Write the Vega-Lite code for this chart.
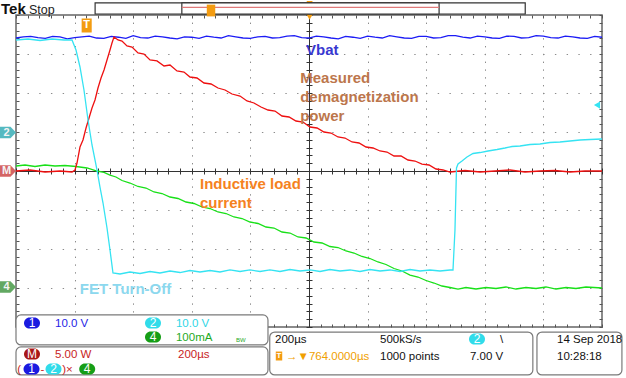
{
"$schema": "https://vega.github.io/schema/vega-lite/v6.json",
"width": 586, "height": 312,
"autosize": {"type": "none"},
"padding": {"left": 16, "top": 15, "right": 24, "bottom": 51},
"background": "white",
"config": {"view": {"stroke": "#666666", "strokeWidth": 1.5}, "font": "Liberation Sans"},
"datasets": {
"tr": [
{"s":"ch1","x":0,"y":3.41},{"s":"ch1","x":0.125,"y":3.44},{"s":"ch1","x":0.25,"y":3.45},{"s":"ch1","x":0.375,"y":3.42},{"s":"ch1","x":0.5,"y":3.40},{"s":"ch1","x":0.625,"y":3.45},{"s":"ch1","x":0.75,"y":3.44},{"s":"ch1","x":0.875,"y":3.39},{"s":"ch1","x":1.0,"y":3.42},{"s":"ch1","x":1.125,"y":3.44},{"s":"ch1","x":1.25,"y":3.46},{"s":"ch1","x":1.375,"y":3.41},{"s":"ch1","x":1.5,"y":3.40},{"s":"ch1","x":1.625,"y":3.45},{"s":"ch1","x":1.75,"y":3.43},{"s":"ch1","x":1.875,"y":3.40},{"s":"ch1","x":2.0,"y":3.47},{"s":"ch1","x":2.125,"y":3.42},{"s":"ch1","x":2.25,"y":3.41},{"s":"ch1","x":2.375,"y":3.46},{"s":"ch1","x":2.5,"y":3.44},{"s":"ch1","x":2.625,"y":3.41},{"s":"ch1","x":2.75,"y":3.39},{"s":"ch1","x":2.875,"y":3.44},{"s":"ch1","x":3.0,"y":3.43},{"s":"ch1","x":3.125,"y":3.40},{"s":"ch1","x":3.25,"y":3.46},{"s":"ch1","x":3.375,"y":3.43},{"s":"ch1","x":3.5,"y":3.41},{"s":"ch1","x":3.625,"y":3.47},{"s":"ch1","x":3.75,"y":3.44},{"s":"ch1","x":3.875,"y":3.41},{"s":"ch1","x":4.0,"y":3.40},{"s":"ch1","x":4.125,"y":3.44},{"s":"ch1","x":4.25,"y":3.45},{"s":"ch1","x":4.375,"y":3.41},{"s":"ch1","x":4.5,"y":3.42},{"s":"ch1","x":4.625,"y":3.46},{"s":"ch1","x":4.75,"y":3.47},{"s":"ch1","x":4.875,"y":3.42},{"s":"ch1","x":5.0,"y":3.41},{"s":"ch1","x":5.125,"y":3.46},{"s":"ch1","x":5.25,"y":3.44},{"s":"ch1","x":5.375,"y":3.41},{"s":"ch1","x":5.5,"y":3.39},{"s":"ch1","x":5.625,"y":3.45},{"s":"ch1","x":5.75,"y":3.43},{"s":"ch1","x":5.875,"y":3.40},{"s":"ch1","x":6.0,"y":3.46},{"s":"ch1","x":6.125,"y":3.43},{"s":"ch1","x":6.25,"y":3.41},{"s":"ch1","x":6.375,"y":3.47},{"s":"ch1","x":6.5,"y":3.44},{"s":"ch1","x":6.625,"y":3.41},{"s":"ch1","x":6.75,"y":3.40},{"s":"ch1","x":6.875,"y":3.45},{"s":"ch1","x":7.0,"y":3.45},{"s":"ch1","x":7.125,"y":3.41},{"s":"ch1","x":7.25,"y":3.42},{"s":"ch1","x":7.375,"y":3.47},{"s":"ch1","x":7.5,"y":3.47},{"s":"ch1","x":7.625,"y":3.43},{"s":"ch1","x":7.75,"y":3.41},{"s":"ch1","x":7.875,"y":3.46},{"s":"ch1","x":8.0,"y":3.44},{"s":"ch1","x":8.125,"y":3.41},{"s":"ch1","x":8.25,"y":3.40},{"s":"ch1","x":8.375,"y":3.46},{"s":"ch1","x":8.5,"y":3.45},{"s":"ch1","x":8.625,"y":3.41},{"s":"ch1","x":8.75,"y":3.42},{"s":"ch1","x":8.875,"y":3.47},{"s":"ch1","x":9.0,"y":3.46},{"s":"ch1","x":9.125,"y":3.42},{"s":"ch1","x":9.25,"y":3.41},{"s":"ch1","x":9.375,"y":3.46},{"s":"ch1","x":9.5,"y":3.44},{"s":"ch1","x":9.625,"y":3.41},{"s":"ch1","x":9.75,"y":3.40},{"s":"ch1","x":9.875,"y":3.45},{"s":"ch1","x":10.0,"y":3.43},
{"s":"ch4","x":0,"y":0.128},{"s":"ch4","x":0.154,"y":0.154},{"s":"ch4","x":0.324,"y":0.115},{"s":"ch4","x":0.495,"y":0.154},{"s":"ch4","x":0.666,"y":0.128},{"s":"ch4","x":0.836,"y":0.141},{"s":"ch4","x":1.024,"y":0.115},{"s":"ch4","x":1.212,"y":0.077},{"s":"ch4","x":1.382,"y":0},{"s":"ch4","x":1.502,"y":-0.038},{"s":"ch4","x":1.604,"y":-0.103},{"s":"ch4","x":1.706,"y":-0.154},{"s":"ch4","x":1.809,"y":-0.244},{"s":"ch4","x":1.945,"y":-0.308},{"s":"ch4","x":2.082,"y":-0.397},{"s":"ch4","x":2.218,"y":-0.436},{"s":"ch4","x":2.355,"y":-0.538},{"s":"ch4","x":2.491,"y":-0.577},{"s":"ch4","x":2.628,"y":-0.667},{"s":"ch4","x":2.765,"y":-0.705},{"s":"ch4","x":2.901,"y":-0.795},{"s":"ch4","x":3.038,"y":-0.833},{"s":"ch4","x":3.174,"y":-0.923},{"s":"ch4","x":3.311,"y":-0.962},{"s":"ch4","x":3.447,"y":-1.051},{"s":"ch4","x":3.584,"y":-1.090},{"s":"ch4","x":3.720,"y":-1.179},{"s":"ch4","x":3.857,"y":-1.218},{"s":"ch4","x":3.993,"y":-1.308},{"s":"ch4","x":4.130,"y":-1.346},{"s":"ch4","x":4.266,"y":-1.436},{"s":"ch4","x":4.403,"y":-1.462},{"s":"ch4","x":4.539,"y":-1.564},{"s":"ch4","x":4.676,"y":-1.590},{"s":"ch4","x":4.812,"y":-1.692},{"s":"ch4","x":4.949,"y":-1.718},{"s":"ch4","x":5.085,"y":-1.821},{"s":"ch4","x":5.222,"y":-1.846},{"s":"ch4","x":5.358,"y":-1.936},{"s":"ch4","x":5.495,"y":-1.962},{"s":"ch4","x":5.631,"y":-2.051},{"s":"ch4","x":5.768,"y":-2.103},{"s":"ch4","x":5.904,"y":-2.192},{"s":"ch4","x":6.041,"y":-2.244},{"s":"ch4","x":6.177,"y":-2.333},{"s":"ch4","x":6.314,"y":-2.397},{"s":"ch4","x":6.451,"y":-2.500},{"s":"ch4","x":6.587,"y":-2.564},{"s":"ch4","x":6.724,"y":-2.667},{"s":"ch4","x":6.860,"y":-2.718},{"s":"ch4","x":6.997,"y":-2.808},{"s":"ch4","x":7.133,"y":-2.872},{"s":"ch4","x":7.270,"y":-2.949},{"s":"ch4","x":7.406,"y":-2.987},{"s":"ch4","x":7.543,"y":-3.026},{"s":"ch4","x":7.679,"y":-2.987},{"s":"ch4","x":7.850,"y":-3.026},{"s":"ch4","x":8.020,"y":-2.987},{"s":"ch4","x":8.191,"y":-3.013},{"s":"ch4","x":8.362,"y":-2.974},{"s":"ch4","x":8.532,"y":-3.026},{"s":"ch4","x":8.703,"y":-2.987},{"s":"ch4","x":8.874,"y":-3.013},{"s":"ch4","x":9.044,"y":-2.974},{"s":"ch4","x":9.215,"y":-3.026},{"s":"ch4","x":9.386,"y":-2.987},{"s":"ch4","x":9.556,"y":-3.013},{"s":"ch4","x":9.727,"y":-2.974},{"s":"ch4","x":10.0,"y":-3.0},
{"s":"M","x":0,"y":0},{"s":"M","x":0.239,"y":0.026},{"s":"M","x":0.495,"y":-0.026},{"s":"M","x":0.751,"y":0},{"s":"M","x":0.956,"y":-0.026},{"s":"M","x":1.007,"y":0.026},{"s":"M","x":1.041,"y":0.205},{"s":"M","x":1.092,"y":0.615},{"s":"M","x":1.143,"y":0.795},{"s":"M","x":1.195,"y":1.103},{"s":"M","x":1.246,"y":1.359},{"s":"M","x":1.297,"y":1.615},{"s":"M","x":1.348,"y":1.821},{"s":"M","x":1.399,"y":2.128},{"s":"M","x":1.451,"y":2.385},{"s":"M","x":1.502,"y":2.590},{"s":"M","x":1.553,"y":2.846},{"s":"M","x":1.604,"y":3.103},{"s":"M","x":1.638,"y":3.282},{"s":"M","x":1.672,"y":3.436},{"s":"M","x":1.741,"y":3.359},{"s":"M","x":1.809,"y":3.333},{"s":"M","x":1.894,"y":3.205},{"s":"M","x":1.980,"y":3.179},{"s":"M","x":2.082,"y":3.026},{"s":"M","x":2.184,"y":3.0},{"s":"M","x":2.287,"y":2.846},{"s":"M","x":2.406,"y":2.821},{"s":"M","x":2.526,"y":2.692},{"s":"M","x":2.628,"y":2.718},{"s":"M","x":2.747,"y":2.564},{"s":"M","x":2.867,"y":2.538},{"s":"M","x":2.969,"y":2.410},{"s":"M","x":3.089,"y":2.385},{"s":"M","x":3.208,"y":2.256},{"s":"M","x":3.328,"y":2.231},{"s":"M","x":3.447,"y":2.128},{"s":"M","x":3.567,"y":2.077},{"s":"M","x":3.686,"y":1.974},{"s":"M","x":3.823,"y":1.923},{"s":"M","x":3.942,"y":1.795},{"s":"M","x":4.061,"y":1.744},{"s":"M","x":4.181,"y":1.641},{"s":"M","x":4.300,"y":1.564},{"s":"M","x":4.420,"y":1.538},{"s":"M","x":4.539,"y":1.410},{"s":"M","x":4.659,"y":1.385},{"s":"M","x":4.778,"y":1.282},{"s":"M","x":4.898,"y":1.256},{"s":"M","x":5.017,"y":1.128},{"s":"M","x":5.137,"y":1.103},{"s":"M","x":5.256,"y":1.0},{"s":"M","x":5.375,"y":0.974},{"s":"M","x":5.495,"y":0.872},{"s":"M","x":5.614,"y":0.846},{"s":"M","x":5.734,"y":0.744},{"s":"M","x":5.853,"y":0.718},{"s":"M","x":5.973,"y":0.615},{"s":"M","x":6.092,"y":0.590},{"s":"M","x":6.212,"y":0.513},{"s":"M","x":6.331,"y":0.487},{"s":"M","x":6.451,"y":0.385},{"s":"M","x":6.570,"y":0.385},{"s":"M","x":6.689,"y":0.282},{"s":"M","x":6.809,"y":0.256},{"s":"M","x":6.928,"y":0.179},{"s":"M","x":7.048,"y":0.154},{"s":"M","x":7.167,"y":0.051},{"s":"M","x":7.287,"y":0.026},{"s":"M","x":7.406,"y":-0.026},{"s":"M","x":7.662,"y":0.013},{"s":"M","x":7.918,"y":-0.026},{"s":"M","x":8.174,"y":0},{"s":"M","x":8.430,"y":0.026},{"s":"M","x":8.686,"y":-0.026},{"s":"M","x":8.942,"y":0},{"s":"M","x":9.198,"y":0.013},{"s":"M","x":9.454,"y":-0.026},{"s":"M","x":9.710,"y":0},{"s":"M","x":10.0,"y":0},
{"s":"ch2","x":0,"y":3.359},{"s":"ch2","x":0.205,"y":3.385},{"s":"ch2","x":0.410,"y":3.346},{"s":"ch2","x":0.614,"y":3.385},{"s":"ch2","x":0.819,"y":3.359},{"s":"ch2","x":0.956,"y":3.359},{"s":"ch2","x":1.024,"y":3.103},{"s":"ch2","x":1.092,"y":2.667},{"s":"ch2","x":1.160,"y":2.077},{"s":"ch2","x":1.229,"y":1.308},{"s":"ch2","x":1.297,"y":0.667},{"s":"ch2","x":1.382,"y":0.026},{"s":"ch2","x":1.433,"y":-0.410},{"s":"ch2","x":1.485,"y":-0.821},{"s":"ch2","x":1.553,"y":-1.462},{"s":"ch2","x":1.604,"y":-2.026},{"s":"ch2","x":1.655,"y":-2.615},{"s":"ch2","x":1.775,"y":-2.641},{"s":"ch2","x":1.945,"y":-2.590},{"s":"ch2","x":2.116,"y":-2.628},{"s":"ch2","x":2.287,"y":-2.577},{"s":"ch2","x":2.457,"y":-2.615},{"s":"ch2","x":2.628,"y":-2.564},{"s":"ch2","x":2.799,"y":-2.603},{"s":"ch2","x":2.969,"y":-2.551},{"s":"ch2","x":3.140,"y":-2.590},{"s":"ch2","x":3.311,"y":-2.551},{"s":"ch2","x":3.481,"y":-2.590},{"s":"ch2","x":3.652,"y":-2.538},{"s":"ch2","x":3.823,"y":-2.577},{"s":"ch2","x":3.993,"y":-2.538},{"s":"ch2","x":4.164,"y":-2.577},{"s":"ch2","x":4.334,"y":-2.538},{"s":"ch2","x":4.505,"y":-2.577},{"s":"ch2","x":4.676,"y":-2.526},{"s":"ch2","x":4.846,"y":-2.564},{"s":"ch2","x":5.017,"y":-2.538},{"s":"ch2","x":5.188,"y":-2.577},{"s":"ch2","x":5.358,"y":-2.526},{"s":"ch2","x":5.529,"y":-2.564},{"s":"ch2","x":5.700,"y":-2.538},{"s":"ch2","x":5.870,"y":-2.577},{"s":"ch2","x":6.041,"y":-2.526},{"s":"ch2","x":6.212,"y":-2.564},{"s":"ch2","x":6.382,"y":-2.538},{"s":"ch2","x":6.553,"y":-2.577},{"s":"ch2","x":6.724,"y":-2.526},{"s":"ch2","x":6.894,"y":-2.564},{"s":"ch2","x":7.065,"y":-2.538},{"s":"ch2","x":7.235,"y":-2.564},{"s":"ch2","x":7.406,"y":-2.538},{"s":"ch2","x":7.457,"y":-2.538},{"s":"ch2","x":7.491,"y":-1.513},{"s":"ch2","x":7.517,"y":0.077},{"s":"ch2","x":7.543,"y":0.179},{"s":"ch2","x":7.611,"y":0.256},{"s":"ch2","x":7.696,"y":0.359},{"s":"ch2","x":7.799,"y":0.449},{"s":"ch2","x":7.918,"y":0.474},{"s":"ch2","x":8.055,"y":0.513},{"s":"ch2","x":8.208,"y":0.551},{"s":"ch2","x":8.345,"y":0.590},{"s":"ch2","x":8.464,"y":0.628},{"s":"ch2","x":8.601,"y":0.641},{"s":"ch2","x":8.771,"y":0.679},{"s":"ch2","x":8.942,"y":0.692},{"s":"ch2","x":9.113,"y":0.731},{"s":"ch2","x":9.283,"y":0.744},{"s":"ch2","x":9.454,"y":0.769},{"s":"ch2","x":9.625,"y":0.795},{"s":"ch2","x":9.795,"y":0.808},{"s":"ch2","x":10.0,"y":0.821}
],
"ann": [
{"x":4.95,"y":2.962,"t":"Vbat","k":"vbat"},
{"x":4.85,"y":2.244,"t":"Measured\ndemagnetization\npower","k":"power"},
{"x":3.14,"y":-0.474,"t":"Inductive load\ncurrent","k":"current"},
{"x":1.09,"y":-3.149,"t":"FET Turn-Off","k":"fet"}
],
"boxes": [
{"x":0,"x2":4.30,"y":-3.69,"y2":-4.46},
{"x":0,"x2":4.30,"y":-4.51,"y2":-5.23},
{"x":4.33,"x2":8.82,"y":-4.13,"y2":-5.23},
{"x":8.89,"x2":10.34,"y":-4.13,"y2":-5.23}
],
"hdr": [
{"x":1.35,"x2":8.69,"y":4.31,"y2":4.026},
{"x":2.83,"x2":7.22,"y":4.31,"y2":4.026}
],
"hline": [{"x":2.83,"x2":7.22,"y":4.197}],
"pills": [
{"x":0.273,"y":-3.897,"t":"1","k":"p1"},
{"x":2.338,"y":-3.897,"t":"2","k":"p2"},
{"x":2.338,"y":-4.256,"t":"4","k":"p4"},
{"x":0.273,"y":-4.692,"t":"M","k":"pM"},
{"x":0.265,"y":-5.077,"t":"1","k":"p1"},
{"x":0.640,"y":-5.077,"t":"2","k":"p2"},
{"x":1.215,"y":-5.077,"t":"4","k":"p4"},
{"x":7.867,"y":-4.308,"t":"2","k":"p2"}
],
"mk": [
{"x":-0.145,"y":0.987,"t":"2","k":"m2"},
{"x":-0.145,"y":0,"t":"M","k":"mM"},
{"x":-0.145,"y":-2.974,"t":"4","k":"m4"}
],
"tm": [
{"x":1.206,"y":3.731,"w":"a"},
{"x":3.328,"y":4.115,"w":"b"},
{"x":4.488,"y":-4.744,"w":"c"}
],
"tri": [{"x":5.01,"y":3.95},{"x":5.01,"y":4.287}],
"trig": [{"x":9.915,"y":1.69}],
"read": [
{"x":0.666,"y":-4.0,"t":"10.0 V","k":"t1"},
{"x":2.730,"y":-4.0,"t":"10.0 V","k":"t2"},
{"x":2.730,"y":-4.359,"t":"100mA","k":"t4"},
{"x":0.666,"y":-4.795,"t":"5.00 W","k":"tM"},
{"x":2.765,"y":-4.795,"t":"200µs","k":"tM"},
{"x":0.020,"y":-5.179,"t":"(","k":"tM"},
{"x":0.420,"y":-5.179,"t":"-","k":"tM"},
{"x":0.790,"y":-5.179,"t":")×","k":"tM"},
{"x":4.420,"y":-4.41,"t":"200µs","k":"k"},
{"x":6.212,"y":-4.41,"t":"500kS/s","k":"k"},
{"x":8.259,"y":-4.41,"t":"\\","k":"k"},
{"x":4.608,"y":-4.846,"t":"→▼764.0000µs","k":"tT"},
{"x":6.212,"y":-4.846,"t":"1000 points","k":"k"},
{"x":7.747,"y":-4.846,"t":"7.00 V","k":"k"},
{"x":9.232,"y":-4.41,"t":"14 Sep 2018","k":"k"},
{"x":9.232,"y":-4.846,"t":"10:28:18","k":"k"}
],
"bw": [{"x":3.754,"y":-4.33,"t":"BW"}],
"tek": [{"x":-0.256,"y":4.038,"t":"Tek"}],
"stop": [{"x":0.188,"y":4.038,"t":"Stop"}]
},
"data": {"name": "tr"},
"layer": [
{
"mark": {"type": "line", "strokeWidth": 1.3},
"encoding": {
"x": {"field":"x","type":"quantitative","scale":{"domain":[0,10],"nice":false,"zero":false},
 "axis":{"orient":"bottom","values":[1,2,3,4,6,7,8,9],"grid":true,"gridColor":"#8c8c8c","gridDash":[1.4,6.4],"gridDashOffset":0.7,"gridWidth":1,"domain":false,"ticks":false,"labels":false,"title":null,"zindex":0}},
"y": {"field":"y","type":"quantitative","scale":{"domain":[-4,4],"nice":false,"zero":false},
 "axis":{"orient":"left","values":[-3,-2,-1,1,2,3],"grid":true,"gridColor":"#8c8c8c","gridDash":[1.4,10.32],"gridDashOffset":0.7,"gridWidth":1,"domain":false,"ticks":false,"labels":false,"title":null,"zindex":0}},
"color": {"field":"s","type":"nominal","legend":null,
 "scale":{"domain":["ch1","ch2","M","ch4","vbat","power","current","fet","t1","t2","t4","tM","tT","k","p1","p2","p4","pM","m2","mM","m4"],
 "range":["#1c1cf5","#35e3f2","#ee1010","#18e018","#3838d0","#bc764c","#f5821e","#8cd8ee","#2525e6","#2fd6e6","#1faa1f","#c81e1e","#f0a000","#111111","#1a1ae0","#30dcea","#169e16","#a81818","#55b9c0","#d46464","#62a862"]}},
"order": {"field":"x","type":"quantitative"}
}
},
{
"mark": {"type": "point", "opacity": 0},
"encoding": {
"x": {"field":"x","type":"quantitative","scale":{"domain":[0,10],"nice":false,"zero":false},
 "axis":{"orient":"bottom","offset":-156,"tickCount":50,"tickSize":3,"tickColor":"#333333","domain":true,"domainColor":"#333333","domainWidth":1,"grid":false,"labels":false,"title":null,"zindex":0}},
"y": {"field":"y","type":"quantitative","scale":{"domain":[-4,4],"nice":false,"zero":false},
 "axis":{"orient":"left","offset":-293,"tickCount":40,"tickSize":3,"tickColor":"#333333","domain":true,"domainColor":"#333333","domainWidth":1,"grid":false,"labels":false,"title":null,"zindex":0}}
}
},
{
"mark": {"type": "point", "opacity": 0},
"encoding": {
"x": {"field":"x","type":"quantitative","scale":{"domain":[0,10],"nice":false,"zero":false},
 "axis":{"orient":"top","offset":-156,"tickCount":50,"tickSize":3,"tickColor":"#333333","domain":false,"grid":false,"labels":false,"title":null,"zindex":0}},
"y": {"field":"y","type":"quantitative","scale":{"domain":[-4,4],"nice":false,"zero":false},
 "axis":{"orient":"right","offset":-293,"tickCount":40,"tickSize":3,"tickColor":"#333333","domain":false,"grid":false,"labels":false,"title":null,"zindex":0}}
}
},
{
"mark": {"type": "point", "opacity": 0},
"encoding": {
"x": {"field":"x","type":"quantitative","scale":{"domain":[0,10],"nice":false,"zero":false},
 "axis":{"orient":"top","offset":-3,"tickCount":50,"tickSize":3,"tickColor":"#555555","domain":false,"grid":false,"labels":false,"title":null,"zindex":0}},
"y": {"field":"y","type":"quantitative","scale":{"domain":[-4,4],"nice":false,"zero":false},
 "axis":{"orient":"left","offset":-3,"tickCount":40,"tickSize":3,"tickColor":"#555555","domain":false,"grid":false,"labels":false,"title":null,"zindex":0}}
}
},
{
"mark": {"type": "point", "opacity": 0},
"encoding": {
"x": {"field":"x","type":"quantitative","scale":{"domain":[0,10],"nice":false,"zero":false},
 "axis":{"orient":"bottom","offset":-3,"tickCount":50,"tickSize":3,"tickColor":"#555555","domain":false,"grid":false,"labels":false,"title":null,"zindex":0}},
"y": {"field":"y","type":"quantitative","scale":{"domain":[-4,4],"nice":false,"zero":false},
 "axis":{"orient":"right","offset":-3,"tickCount":40,"tickSize":3,"tickColor":"#555555","domain":false,"grid":false,"labels":false,"title":null,"zindex":0}}
}
},
{
"data": {"name": "ann"},
"mark": {"type": "text", "align": "left", "baseline": "alphabetic", "fontSize": 15, "fontWeight": "bold", "lineBreak": "\n", "lineHeight": 19},
"encoding": {
"x": {"field":"x","type":"quantitative","scale":{"domain":[0,10],"nice":false,"zero":false},"axis":null},
"y": {"field":"y","type":"quantitative","scale":{"domain":[-4,4],"nice":false,"zero":false},"axis":null},
"text": {"field":"t"},
"color": {"field":"k","type":"nominal","legend":null,
 "scale":{"domain":["ch1","ch2","M","ch4","vbat","power","current","fet","t1","t2","t4","tM","tT","k","p1","p2","p4","pM","m2","mM","m4"],
 "range":["#1c1cf5","#35e3f2","#ee1010","#18e018","#3838d0","#bc764c","#f5821e","#8cd8ee","#2525e6","#2fd6e6","#1faa1f","#c81e1e","#f0a000","#111111","#1a1ae0","#30dcea","#169e16","#a81818","#55b9c0","#d46464","#62a862"]}}
}
},
{
"data": {"name": "mk"},
"mark": {"type": "point", "filled": true, "opacity": 1, "size": 290, "shape": "M -1 -0.67 L 0.35 -0.67 L 1 0 L 0.35 0.67 L -1 0.67 Z"},
"encoding": {
"x": {"field":"x","type":"quantitative","scale":{"domain":[0,10],"nice":false,"zero":false},"axis":null},
"y": {"field":"y","type":"quantitative","scale":{"domain":[-4,4],"nice":false,"zero":false},"axis":null},
"color": {"field":"k","type":"nominal","legend":null,
 "scale":{"domain":["ch1","ch2","M","ch4","vbat","power","current","fet","t1","t2","t4","tM","tT","k","p1","p2","p4","pM","m2","mM","m4"],
 "range":["#1c1cf5","#35e3f2","#ee1010","#18e018","#3838d0","#bc764c","#f5821e","#8cd8ee","#2525e6","#2fd6e6","#1faa1f","#c81e1e","#f0a000","#111111","#1a1ae0","#30dcea","#169e16","#a81818","#55b9c0","#d46464","#62a862"]}}
}
},
{
"data": {"name": "mk"},
"mark": {"type": "text", "align": "center", "baseline": "middle", "fontSize": 11, "fontWeight": "bold", "color": "#f4f4f4", "dx": -1},
"encoding": {
"x": {"field":"x","type":"quantitative","scale":{"domain":[0,10],"nice":false,"zero":false},"axis":null},
"y": {"field":"y","type":"quantitative","scale":{"domain":[-4,4],"nice":false,"zero":false},"axis":null},
"text": {"field":"t"}
}
},
{
"data": {"name": "tri"},
"mark": {"type": "point", "shape": "triangle-down", "filled": true, "opacity": 1, "size": 40, "color": "#f39c12"},
"encoding": {
"x": {"field":"x","type":"quantitative","scale":{"domain":[0,10],"nice":false,"zero":false},"axis":null},
"y": {"field":"y","type":"quantitative","scale":{"domain":[-4,4],"nice":false,"zero":false},"axis":null}
}
},
{
"data": {"name": "trig"},
"mark": {"type": "point", "shape": "triangle-left", "filled": true, "opacity": 1, "size": 50, "color": "#35e3f2"},
"encoding": {
"x": {"field":"x","type":"quantitative","scale":{"domain":[0,10],"nice":false,"zero":false},"axis":null},
"y": {"field":"y","type":"quantitative","scale":{"domain":[-4,4],"nice":false,"zero":false},"axis":null}
}
},
{
"data": {"name": "boxes"},
"mark": {"type": "rect", "fill": "white", "stroke": "#7a7a7a", "strokeWidth": 1.2, "cornerRadius": 5},
"encoding": {
"x": {"field":"x","type":"quantitative","scale":{"domain":[0,10],"nice":false,"zero":false},"axis":null},
"x2": {"field":"x2"},
"y": {"field":"y","type":"quantitative","scale":{"domain":[-4,4],"nice":false,"zero":false},"axis":null},
"y2": {"field":"y2"}
}
},
{
"data": {"name": "hdr"},
"mark": {"type": "rect", "fill": "white", "stroke": "#333333", "strokeWidth": 1.2},
"encoding": {
"x": {"field":"x","type":"quantitative","scale":{"domain":[0,10],"nice":false,"zero":false},"axis":null},
"x2": {"field":"x2"},
"y": {"field":"y","type":"quantitative","scale":{"domain":[-4,4],"nice":false,"zero":false},"axis":null},
"y2": {"field":"y2"}
}
},
{
"data": {"name": "hline"},
"mark": {"type": "rule", "color": "#e07a7a", "strokeWidth": 1.2},
"encoding": {
"x": {"field":"x","type":"quantitative","scale":{"domain":[0,10],"nice":false,"zero":false},"axis":null},
"x2": {"field":"x2"},
"y": {"field":"y","type":"quantitative","scale":{"domain":[-4,4],"nice":false,"zero":false},"axis":null}
}
},
{
"data": {"name": "tm"},
"mark": {"type": "point", "filled": true, "opacity": 1, "color": "#f39c12", "shape": "M -0.72 -1 L 0.72 -1 L 0.72 1 L -0.72 1 Z"},
"encoding": {
"x": {"field":"x","type":"quantitative","scale":{"domain":[0,10],"nice":false,"zero":false},"axis":null},
"y": {"field":"y","type":"quantitative","scale":{"domain":[-4,4],"nice":false,"zero":false},"axis":null},
"size": {"field":"w","type":"nominal","legend":null,"scale":{"domain":["a","b","c"],"range":[196,80,110]}}
}
},
{
"data": {"name": "tm"},
"transform": [{"filter": "datum.w == 'a'"}],
"mark": {"type": "text", "align": "center", "baseline": "middle", "fontSize": 11, "fontWeight": "bold", "color": "white"},
"encoding": {
"x": {"field":"x","type":"quantitative","scale":{"domain":[0,10],"nice":false,"zero":false},"axis":null},
"y": {"field":"y","type":"quantitative","scale":{"domain":[-4,4],"nice":false,"zero":false},"axis":null},
"text": {"value": "T"}
}
},
{
"data": {"name": "tm"},
"transform": [{"filter": "datum.w == 'c'"}],
"mark": {"type": "text", "align": "center", "baseline": "middle", "fontSize": 8, "fontWeight": "bold", "color": "white"},
"encoding": {
"x": {"field":"x","type":"quantitative","scale":{"domain":[0,10],"nice":false,"zero":false},"axis":null},
"y": {"field":"y","type":"quantitative","scale":{"domain":[-4,4],"nice":false,"zero":false},"axis":null},
"text": {"value": "T"}
}
},
{
"data": {"name": "pills"},
"mark": {"type": "point", "filled": true, "opacity": 1, "size": 256, "shape": "M -0.3 -0.7 L 0.3 -0.7 A 0.7 0.7 0 0 1 0.3 0.7 L -0.3 0.7 A 0.7 0.7 0 0 1 -0.3 -0.7 Z"},
"encoding": {
"x": {"field":"x","type":"quantitative","scale":{"domain":[0,10],"nice":false,"zero":false},"axis":null},
"y": {"field":"y","type":"quantitative","scale":{"domain":[-4,4],"nice":false,"zero":false},"axis":null},
"color": {"field":"k","type":"nominal","legend":null,
 "scale":{"domain":["ch1","ch2","M","ch4","vbat","power","current","fet","t1","t2","t4","tM","tT","k","p1","p2","p4","pM","m2","mM","m4"],
 "range":["#1c1cf5","#35e3f2","#ee1010","#18e018","#3838d0","#bc764c","#f5821e","#8cd8ee","#2525e6","#2fd6e6","#1faa1f","#c81e1e","#f0a000","#111111","#1a1ae0","#30dcea","#169e16","#a81818","#55b9c0","#d46464","#62a862"]}}
}
},
{
"data": {"name": "pills"},
"mark": {"type": "text", "align": "center", "baseline": "middle", "fontSize": 12, "color": "white"},
"encoding": {
"x": {"field":"x","type":"quantitative","scale":{"domain":[0,10],"nice":false,"zero":false},"axis":null},
"y": {"field":"y","type":"quantitative","scale":{"domain":[-4,4],"nice":false,"zero":false},"axis":null},
"text": {"field":"t"}
}
},
{
"data": {"name": "read"},
"mark": {"type": "text", "align": "left", "baseline": "alphabetic", "fontSize": 11.5},
"encoding": {
"x": {"field":"x","type":"quantitative","scale":{"domain":[0,10],"nice":false,"zero":false},"axis":null},
"y": {"field":"y","type":"quantitative","scale":{"domain":[-4,4],"nice":false,"zero":false},"axis":null},
"text": {"field":"t"},
"color": {"field":"k","type":"nominal","legend":null,
 "scale":{"domain":["ch1","ch2","M","ch4","vbat","power","current","fet","t1","t2","t4","tM","tT","k","p1","p2","p4","pM","m2","mM","m4"],
 "range":["#1c1cf5","#35e3f2","#ee1010","#18e018","#3838d0","#bc764c","#f5821e","#8cd8ee","#2525e6","#2fd6e6","#1faa1f","#c81e1e","#f0a000","#111111","#1a1ae0","#30dcea","#169e16","#a81818","#55b9c0","#d46464","#62a862"]}}
}
},
{
"data": {"name": "bw"},
"mark": {"type": "text", "align": "left", "baseline": "middle", "fontSize": 6, "color": "#1faa1f"},
"encoding": {
"x": {"field":"x","type":"quantitative","scale":{"domain":[0,10],"nice":false,"zero":false},"axis":null},
"y": {"field":"y","type":"quantitative","scale":{"domain":[-4,4],"nice":false,"zero":false},"axis":null},
"text": {"field":"t"}
}
},
{
"data": {"name": "tek"},
"mark": {"type": "text", "align": "left", "baseline": "alphabetic", "fontSize": 15, "fontWeight": "bold", "color": "#111111"},
"encoding": {
"x": {"field":"x","type":"quantitative","scale":{"domain":[0,10],"nice":false,"zero":false},"axis":null},
"y": {"field":"y","type":"quantitative","scale":{"domain":[-4,4],"nice":false,"zero":false},"axis":null},
"text": {"field":"t"}
}
},
{
"data": {"name": "stop"},
"mark": {"type": "text", "align": "left", "baseline": "alphabetic", "fontSize": 12.5, "color": "#222222", "dx": 2},
"encoding": {
"x": {"field":"x","type":"quantitative","scale":{"domain":[0,10],"nice":false,"zero":false},"axis":null},
"y": {"field":"y","type":"quantitative","scale":{"domain":[-4,4],"nice":false,"zero":false},"axis":null},
"text": {"field":"t"}
}
}
],
"resolve": {"axis": {"x": "independent", "y": "independent"}}
}
